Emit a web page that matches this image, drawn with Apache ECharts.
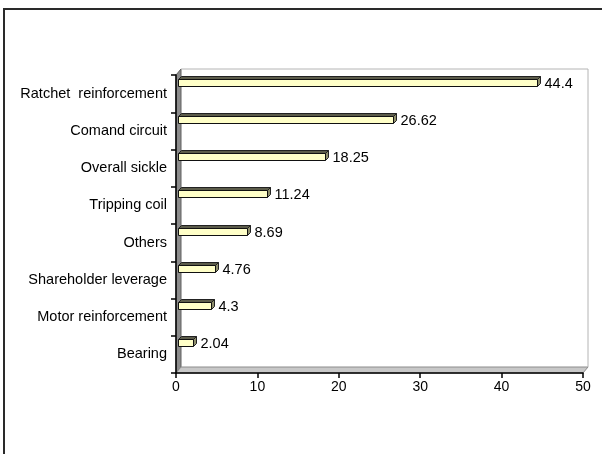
<!DOCTYPE html>
<html>
<head>
<meta charset="utf-8">
<script src="https://cdn.jsdelivr.net/npm/echarts@6/dist/echarts.min.js"></script>
<style>
  html, body { margin: 0; padding: 0; background: #fff; }
  #main { width: 602px; height: 454px; }
</style>
</head>
<body>
<div id="main"></div>
<script>
var categories = ['Ratchet  reinforcement', 'Comand circuit', 'Overall sickle', 'Tripping coil',
                  'Others', 'Shareholder leverage', 'Motor reinforcement', 'Bearing'];
var values = [44.4, 26.62, 18.25, 11.24, 8.69, 4.76, 4.3, 2.04];
var xMin = 0, xMax = 50, xStep = 10;

var FONT = 'Liberation Sans, Arial, sans-serif';
var DEPTH_X = 5, DEPTH_Y = 6;   // depth of the 3D walls
var BAR_D = 3;                  // depth of the 3D bars

var myChart = echarts.init(document.getElementById('main'));

function renderWalls(params, api) {
    var c = params.coordSys;
    var x = c.x, y = c.y, w = c.width, h = c.height;
    return {
        type: 'group',
        children: [
            { type: 'polygon', shape: { points: [[x, y], [x + DEPTH_X, y - DEPTH_Y], [x + DEPTH_X, y + h - DEPTH_Y], [x, y + h]] },
              style: { fill: '#8c8c8c', stroke: '#606060', lineWidth: 1 } },
            { type: 'polygon', shape: { points: [[x, y + h], [x + DEPTH_X, y + h - DEPTH_Y], [x + w + DEPTH_X, y + h - DEPTH_Y], [x + w, y + h]] },
              style: { fill: '#c8c8c8', stroke: '#8c8c8c', lineWidth: 1 } },
            { type: 'polyline', shape: { points: [[x + DEPTH_X, y - DEPTH_Y], [x + w + DEPTH_X, y - DEPTH_Y], [x + w + DEPTH_X, y + h - DEPTH_Y]] },
              style: { fill: null, stroke: '#b4b4b4', lineWidth: 1 } }
        ]
    };
}

function renderBar(params, api) {
    var v = api.value(0), idx = api.value(1);
    var s = api.coord([0, idx]);
    var e = api.coord([v, idx]);
    var band = api.size([0, 1])[1];
    var top = Math.round(s[1] - band / 2 + 3.5) + 0.5;
    var h = 7;
    var x0 = Math.round(s[0]) + 2.5, x1 = Math.round(e[0]) + 0.5;
    var d = BAR_D;
    return {
        type: 'group',
        children: [
            { type: 'polygon', shape: { points: [[x0, top], [x0 + d, top - d], [x1 + d, top - d], [x1, top]] },
              style: { fill: '#5c5c4a', stroke: '#222', lineWidth: 1 } },
            { type: 'polygon', shape: { points: [[x1, top], [x1 + d, top - d], [x1 + d, top + h - d], [x1, top + h]] },
              style: { fill: '#8e8e6c', stroke: '#222', lineWidth: 1 } },
            { type: 'rect', shape: { x: x0, y: top, width: x1 - x0, height: h },
              style: { fill: '#ffffc8', stroke: '#111', lineWidth: 1 } },
            { type: 'text', x: x1 + d + 4, y: top + h / 2 + 1,
              style: { text: String(v), fill: '#000', font: '14.5px ' + FONT, verticalAlign: 'middle', align: 'left' } }
        ]
    };
}

var option = {
    backgroundColor: '#fff',
    animation: false,
    grid: { left: 176, right: 19, top: 75, bottom: 81 },
    graphic: [
        { type: 'rect', shape: { x: 4, y: 9, width: 700, height: 500 },
          style: { fill: null, stroke: '#2a2a2a', lineWidth: 2 }, z: 10 }
    ],
    xAxis: {
        type: 'value', min: xMin, max: xMax, interval: xStep, z: 5,
        axisLine: { show: true, lineStyle: { color: '#000', width: 1.5 } },
        axisTick: { show: true, length: 5, lineStyle: { color: '#000', width: 1.5 } },
        splitLine: { show: false },
        axisLabel: { color: '#000', fontSize: 14, fontFamily: FONT, margin: 7 }
    },
    yAxis: {
        type: 'category', data: categories, inverse: true, z: 5,
        axisLine: { show: true, lineStyle: { color: '#000', width: 1.5 } },
        axisTick: { show: true, length: 5, lineStyle: { color: '#000', width: 1.5 } },
        axisLabel: { color: '#000', fontSize: 14.5, fontFamily: FONT, margin: 9 }
    },
    series: [
        { type: 'custom', renderItem: renderWalls, data: [[0, 0]], z: 1, silent: true, clip: false },
        { type: 'custom', renderItem: renderBar, z: 2, clip: false,
          encode: { x: 0, y: 1 },
          data: values.map(function (v, i) { return [v, i]; }) }
    ]
};

myChart.setOption(option);
</script>
</body>
</html>
